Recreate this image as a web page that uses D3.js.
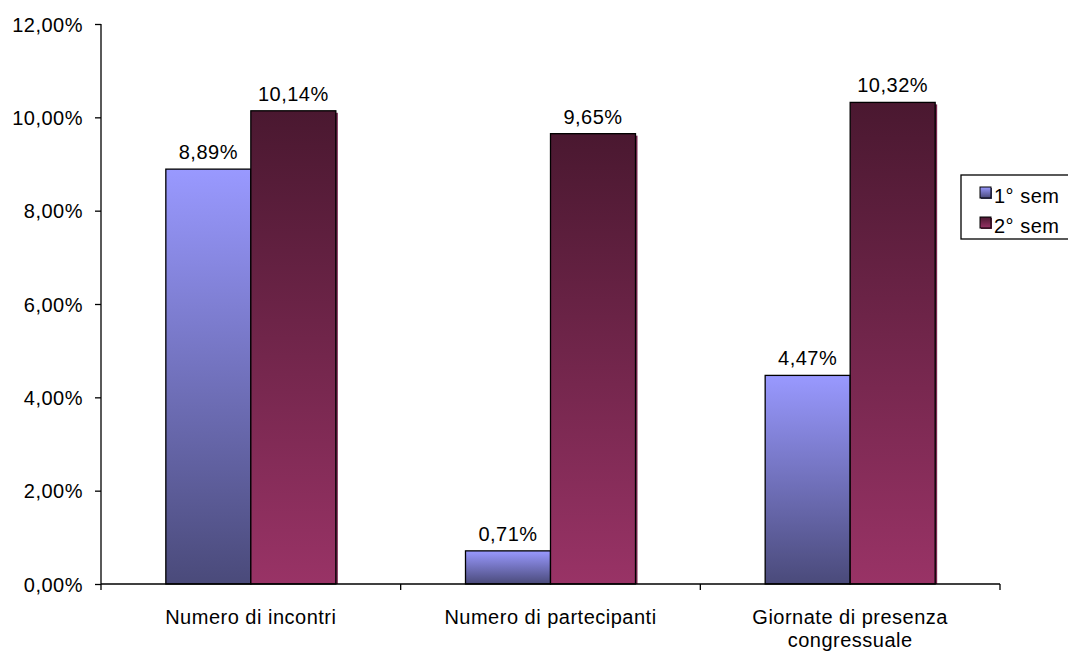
<!DOCTYPE html>
<html><head><meta charset="utf-8">
<script src="https://cdn.jsdelivr.net/npm/d3@7/dist/d3.min.js"></script>
<style>body{margin:0;background:#fff}svg{display:block}text{font-family:"Liberation Sans",Arial,sans-serif;fill:#000;letter-spacing:0.5px}</style>
</head><body><svg id="c" width="1068" height="655"></svg>
<script>
const categories = [["Numero di incontri"],["Numero di partecipanti"],["Giornate di presenza","congressuale"]];
const seriesNames = ["1° sem","2° sem"];
const sem1 = [8.89, 0.71, 4.47];
const sem2 = [10.14, 9.65, 10.32];
const yTicks = [0,2,4,6,8,10,12];
const labelsSem1 = ["8,89%","0,71%","4,47%"];
const labelsSem2 = ["10,14%","9,65%","10,32%"];

const svg = d3.select("#c");
const FS = 20;
const pLeft = 101, pRight = 1000, pTop = 24, pBottom = 584;
const x = d3.scaleBand().domain(d3.range(categories.length)).range([pLeft, pRight]).paddingInner(0).paddingOuter(0);
const xs = d3.scaleBand().domain([0,1]).range([0, x.bandwidth()]).paddingInner(0).paddingOuter(0.7627);
const y = d3.scaleLinear().domain([0,12]).range([pBottom, pTop]);

const defs = svg.append("defs");
const g1 = defs.append("linearGradient").attr("id","g1").attr("x1",0).attr("y1",0).attr("x2",0).attr("y2",1);
g1.append("stop").attr("offset",0).attr("stop-color","#9999FF");
g1.append("stop").attr("offset",1).attr("stop-color","#4A4A7A");
const g2 = defs.append("linearGradient").attr("id","g2").attr("x1",0).attr("y1",0).attr("x2",0).attr("y2",1);
g2.append("stop").attr("offset",0).attr("stop-color","#4A1830");
g2.append("stop").attr("offset",1).attr("stop-color","#993366");

const data = [];
categories.forEach((c,i)=>{
  data.push({i, s:0, v:sem1[i], lab:labelsSem1[i]});
  data.push({i, s:1, v:sem2[i], lab:labelsSem2[i]});
});
const fills = ["url(#g1)","url(#g2)"];
const shadowCol = ["#4A4A7A","#7A2850"];

// shadows
svg.append("g").selectAll("rect").data(data).join("rect")
  .attr("x", d=>x(d.i)+xs(d.s)+2).attr("y", d=>y(d.v)+2)
  .attr("width", xs.bandwidth()).attr("height", d=>pBottom - y(d.v)-2)
  .attr("fill", d=>shadowCol[d.s]);
svg.append("g").selectAll("rect").data(data).join("rect")
  .attr("x", d=>x(d.i)+xs(d.s)).attr("y", d=>y(d.v))
  .attr("width", xs.bandwidth()).attr("height", d=>pBottom - y(d.v))
  .attr("fill", d=>fills[d.s]).attr("stroke","#000").attr("stroke-width",1.3);

// value labels
svg.append("g").selectAll("text").data(data).join("text")
  .attr("x", d=>x(d.i)+xs(d.s)+xs.bandwidth()/2).attr("y", d=>y(d.v)-10)
  .attr("text-anchor","middle").attr("font-size",FS).text(d=>d.lab);

// y axis
const ya = svg.append("g").attr("transform",`translate(${pLeft},0)`)
  .call(d3.axisLeft(y).tickValues(yTicks).tickSize(6).tickPadding(12).tickFormat(d=>d3.format(".2f")(d).replace(".",",")+"%"));
ya.selectAll("path,line").attr("stroke","#000").attr("stroke-width",1.3);
ya.select(".domain").attr("d",`M0,${pTop}V${pBottom}`);
ya.selectAll("text").attr("font-size",FS).attr("font-family","Liberation Sans, Arial, sans-serif").attr("fill","#000").attr("dy","0.36em");

// x axis
const xa = svg.append("g").attr("transform",`translate(0,${pBottom})`);
xa.append("line").attr("x1",pLeft).attr("x2",pRight).attr("stroke","#000").attr("stroke-width",1.3);
const bounds = d3.range(categories.length+1).map(k=> k<categories.length ? x(k) : x(k-1)+x.bandwidth());
xa.selectAll("line.t").data(bounds).join("line").attr("class","t")
  .attr("x1",d=>d).attr("x2",d=>d).attr("y1",0).attr("y2",6).attr("stroke","#000").attr("stroke-width",1.3);
const cl = xa.selectAll("text").data(categories).join("text")
  .attr("x",(d,i)=>x(i)+x.bandwidth()/2).attr("y",40).attr("text-anchor","middle").attr("font-size",FS);
cl.selectAll("tspan").data(d=>d).join("tspan").attr("x",function(){return this.parentNode.getAttribute("x");})
  .attr("dy",(d,j)=>j===0?0:23).text(d=>d);

// legend
const lg = svg.append("g");
lg.append("rect").attr("x",961).attr("y",175).attr("width",120).attr("height",64).attr("fill","#fff").attr("stroke","#000").attr("stroke-width",1.3);
seriesNames.forEach((n,k)=>{
  const yy = 187 + k*30;
  lg.append("rect").attr("x",981).attr("y",yy+1).attr("width",11).attr("height",11).attr("fill",shadowCol[k]);
  lg.append("rect").attr("x",980).attr("y",yy).attr("width",11).attr("height",11).attr("fill",fills[k]).attr("stroke","#000").attr("stroke-width",1);
  lg.append("text").attr("x",994).attr("y",yy+16).attr("font-size",FS).text(n);
});
</script></body></html>
